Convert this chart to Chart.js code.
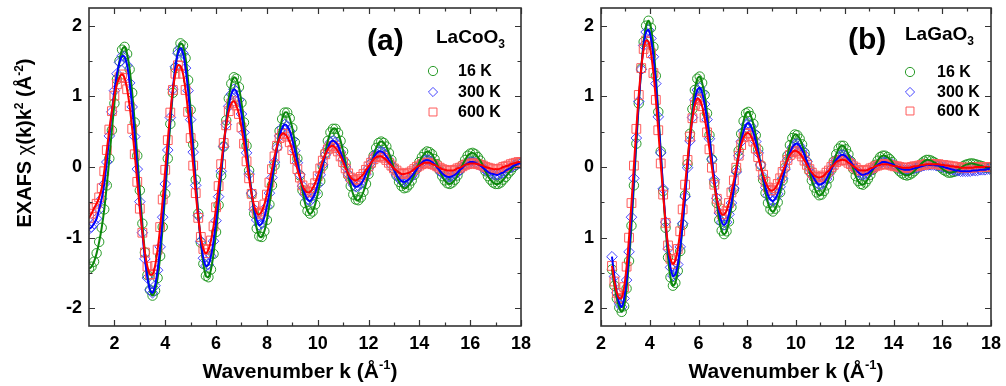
<!DOCTYPE html>
<html>
<head>
<meta charset="utf-8">
<script src="https://cdn.jsdelivr.net/npm/chart.js@4.4.1/dist/chart.umd.min.js"></script>
<style>
  html, body { margin: 0; padding: 0; background: #fff; }
  #wrap { position: relative; width: 1006px; height: 386px; overflow: hidden; }
  canvas { position: absolute; top: 0; }
</style>
</head>
<body>
<div id="wrap">
  <canvas id="chartA" width="540" height="386" style="left:0"></canvas>
  <canvas id="chartB" width="466" height="386" style="left:540px"></canvas>
</div>
<script>
// EXAFS chi(k)k^2 - LaCoO3 (a) and LaGaO3 (b), three temperatures each

const FONT = '"Liberation Sans", Arial, Helvetica, sans-serif';
const kStep = 0.1;

// ---- panel (a) LaCoO3 : k = 1.0 ... 18.0 ----
const kStartA = 1.0;
const g16a = [
  -1.44, -1.41, -1.34, -1.22, -1.06, -0.86, -0.60, -0.26, 0.12, 0.52,
  0.90, 1.24, 1.50, 1.66, 1.70, 1.60, 1.38, 1.05, 0.63, 0.16,
  -0.33, -0.80, -1.21, -1.53, -1.74, -1.82, -1.75, -1.57, -1.26, -0.85,
  -0.38, 0.12, 0.61, 1.05, 1.40, 1.64, 1.75, 1.72, 1.54, 1.23,
  0.81, 0.32, -0.18, -0.66, -1.07, -1.37, -1.54, -1.56, -1.45, -1.23,
  -0.92, -0.54, -0.12, 0.29, 0.66, 0.97, 1.18, 1.27, 1.25, 1.13,
  0.91, 0.63, 0.30, -0.05, -0.38, -0.66, -0.87, -0.98, -0.99, -0.91,
  -0.75, -0.53, -0.26, 0.02, 0.29, 0.51, 0.68, 0.77, 0.77, 0.69,
  0.55, 0.35, 0.12, -0.12, -0.33, -0.51, -0.62, -0.66, -0.63, -0.53,
  -0.38, -0.20, 0.01, 0.20, 0.37, 0.49, 0.54, 0.54, 0.48, 0.37,
  0.22, 0.05, -0.12, -0.27, -0.39, -0.46, -0.47, -0.43, -0.35, -0.24,
  -0.10, 0.04, 0.16, 0.27, 0.34, 0.36, 0.34, 0.29, 0.20, 0.10,
  -0.02, -0.12, -0.21, -0.27, -0.30, -0.29, -0.25, -0.19, -0.11, -0.02,
  0.07, 0.14, 0.19, 0.22, 0.21, 0.18, 0.11, 0.04, -0.05, -0.13,
  -0.19, -0.23, -0.24, -0.22, -0.18, -0.12, -0.04, 0.03, 0.10, 0.16,
  0.19, 0.20, 0.18, 0.14, 0.09, 0.02, -0.06, -0.13, -0.18, -0.22,
  -0.24, -0.24, -0.22, -0.18, -0.14, -0.09, -0.05, 0.00, 0.03, 0.05,
  0.06
];
const b300a = [
  -0.88, -0.85, -0.80, -0.73, -0.60, -0.45, -0.24, 0.07, 0.44, 0.78,
  1.08, 1.32, 1.48, 1.57, 1.56, 1.44, 1.19, 0.85, 0.43, -0.03,
  -0.49, -0.93, -1.30, -1.57, -1.74, -1.78, -1.68, -1.46, -1.13, -0.71,
  -0.24, 0.24, 0.70, 1.10, 1.42, 1.61, 1.68, 1.61, 1.40, 1.08,
  0.67, 0.21, -0.26, -0.69, -1.05, -1.29, -1.40, -1.38, -1.26, -1.05,
  -0.76, -0.42, -0.06, 0.29, 0.60, 0.86, 1.03, 1.10, 1.07, 0.95,
  0.75, 0.49, 0.20, -0.10, -0.37, -0.60, -0.75, -0.82, -0.80, -0.71,
  -0.56, -0.37, -0.15, 0.07, 0.27, 0.44, 0.55, 0.60, 0.58, 0.51,
  0.39, 0.23, 0.06, -0.11, -0.27, -0.39, -0.46, -0.48, -0.44, -0.37,
  -0.25, -0.11, 0.03, 0.17, 0.27, 0.35, 0.37, 0.35, 0.30, 0.21,
  0.11, 0.00, -0.10, -0.19, -0.25, -0.28, -0.27, -0.24, -0.18, -0.10,
  -0.02, 0.06, 0.13, 0.19, 0.22, 0.22, 0.20, 0.15, 0.10, 0.03,
  -0.04, -0.11, -0.16, -0.20, -0.21, -0.20, -0.17, -0.13, -0.08, -0.03,
  0.02, 0.06, 0.09, 0.10, 0.09, 0.07, 0.04, -0.01, -0.05, -0.09,
  -0.12, -0.14, -0.14, -0.13, -0.11, -0.08, -0.04, -0.01, 0.03, 0.05,
  0.07, 0.07, 0.06, 0.04, 0.02, -0.01, -0.04, -0.07, -0.09, -0.10,
  -0.11, -0.11, -0.09, -0.08, -0.05, -0.03, -0.01, 0.02, 0.03, 0.05,
  0.05
];
const r600a = [
  -0.72, -0.66, -0.58, -0.52, -0.43, -0.30, -0.06, 0.24, 0.53, 0.79,
  1.01, 1.17, 1.27, 1.31, 1.26, 1.10, 0.86, 0.54, 0.18, -0.21,
  -0.59, -0.93, -1.21, -1.41, -1.52, -1.52, -1.40, -1.17, -0.85, -0.46,
  -0.04, 0.38, 0.77, 1.09, 1.32, 1.44, 1.43, 1.32, 1.09, 0.78,
  0.41, 0.02, -0.37, -0.72, -0.99, -1.16, -1.22, -1.17, -1.04, -0.84,
  -0.57, -0.27, 0.04, 0.34, 0.59, 0.79, 0.90, 0.93, 0.87, 0.75,
  0.56, 0.33, 0.08, -0.16, -0.38, -0.55, -0.65, -0.67, -0.63, -0.53,
  -0.39, -0.22, -0.03, 0.15, 0.30, 0.41, 0.47, 0.47, 0.43, 0.35,
  0.24, 0.11, -0.03, -0.15, -0.26, -0.33, -0.36, -0.35, -0.30, -0.23,
  -0.13, -0.02, 0.09, 0.18, 0.25, 0.29, 0.30, 0.27, 0.22, 0.15,
  0.07, -0.02, -0.09, -0.15, -0.18, -0.19, -0.17, -0.14, -0.10, -0.04,
  0.01, 0.06, 0.11, 0.14, 0.15, 0.15, 0.13, 0.10, 0.06, 0.02,
  -0.02, -0.05, -0.08, -0.10, -0.10, -0.09, -0.08, -0.06, -0.03, 0.00,
  0.02, 0.04, 0.06, 0.06, 0.06, 0.04, 0.03, 0.01, -0.01, -0.03,
  -0.04, -0.05, -0.05, -0.05, -0.04, -0.02, -0.01, 0.01, 0.03, 0.04,
  0.05, 0.05, 0.05, 0.04, 0.03, 0.02, 0.00, -0.01, -0.02, -0.03,
  -0.03, -0.03, -0.02, 0.00, 0.01, 0.02, 0.04, 0.05, 0.06, 0.07,
  0.07
];

// ---- panel (b) LaGaO3 : k = 2.45 ... 17.95 ----
const kStartB = 2.45;
const g16b = [
  -1.45, -1.68, -1.86, -1.99, -2.05, -1.97,
  -1.72, -1.33, -0.83, -0.26, 0.33, 0.90, 1.39, 1.77, 2.00, 2.07,
  1.97, 1.70, 1.29, 0.78, 0.22, -0.34, -0.86, -1.28, -1.56, -1.68,
  -1.64, -1.47, -1.19, -0.82, -0.40, 0.04, 0.47, 0.82, 1.09, 1.25,
  1.28, 1.19, 1.02, 0.76, 0.45, 0.11, -0.22, -0.51, -0.75, -0.90,
  -0.95, -0.91, -0.77, -0.57, -0.32, -0.04, 0.23, 0.47, 0.65, 0.76,
  0.78, 0.72, 0.61, 0.45, 0.25, 0.03, -0.18, -0.37, -0.51, -0.60,
  -0.63, -0.59, -0.50, -0.36, -0.19, -0.01, 0.16, 0.31, 0.41, 0.46,
  0.45, 0.40, 0.32, 0.20, 0.07, -0.06, -0.19, -0.29, -0.36, -0.40,
  -0.39, -0.34, -0.26, -0.16, -0.04, 0.08, 0.18, 0.26, 0.30, 0.30,
  0.25, 0.18, 0.08, -0.03, -0.13, -0.20, -0.24, -0.25, -0.22, -0.17,
  -0.11, -0.04, 0.03, 0.09, 0.14, 0.16, 0.16, 0.14, 0.11, 0.07,
  0.02, -0.02, -0.06, -0.09, -0.11, -0.12, -0.11, -0.09, -0.06, -0.02,
  0.01, 0.05, 0.08, 0.10, 0.10, 0.09, 0.07, 0.05, 0.02, -0.01,
  -0.04, -0.06, -0.08, -0.08, -0.07, -0.06, -0.04, -0.02, 0.01, 0.03,
  0.04, 0.05, 0.05, 0.04, 0.03, 0.02, 0.01, -0.01, -0.01, -0.02
];
const b300b = [
  -1.27, -1.55, -1.78, -1.93, -1.98, -1.86,
  -1.60, -1.20, -0.71, -0.16, 0.41, 0.93, 1.38, 1.72, 1.91, 1.94,
  1.82, 1.56, 1.18, 0.71, 0.20, -0.31, -0.78, -1.16, -1.42, -1.54,
  -1.52, -1.38, -1.13, -0.80, -0.42, -0.01, 0.37, 0.70, 0.95, 1.09,
  1.12, 1.05, 0.89, 0.67, 0.40, 0.11, -0.18, -0.44, -0.65, -0.78,
  -0.82, -0.78, -0.67, -0.51, -0.30, -0.07, 0.16, 0.36, 0.51, 0.60,
  0.62, 0.58, 0.49, 0.36, 0.20, 0.03, -0.14, -0.29, -0.40, -0.46,
  -0.48, -0.45, -0.38, -0.28, -0.16, -0.03, 0.10, 0.20, 0.28, 0.32,
  0.33, 0.30, 0.24, 0.17, 0.08, -0.02, -0.10, -0.17, -0.22, -0.25,
  -0.24, -0.22, -0.17, -0.10, -0.03, 0.04, 0.10, 0.14, 0.17, 0.17,
  0.15, 0.11, 0.07, 0.02, -0.03, -0.07, -0.10, -0.11, -0.10, -0.09,
  -0.06, -0.03, 0.00, 0.03, 0.05, 0.07, 0.07, 0.06, 0.05, 0.04,
  0.02, 0.00, -0.02, -0.03, -0.04, -0.04, -0.04, -0.03, -0.02, -0.01,
  0.00, 0.01, 0.02, 0.03, 0.03, 0.03, 0.03, 0.02, 0.02, 0.01,
  0.00, -0.01, -0.02, -0.03, -0.04, -0.05, -0.05, -0.06, -0.06, -0.06,
  -0.06, -0.06, -0.05, -0.05, -0.05, -0.04, -0.04, -0.04, -0.03, -0.03
];
const r600b = [
  -1.40, -1.62, -1.78, -1.86, -1.85, -1.70,
  -1.41, -1.00, -0.51, 0.02, 0.54, 1.02, 1.40, 1.67, 1.79, 1.77,
  1.61, 1.33, 0.95, 0.52, 0.05, -0.39, -0.79, -1.11, -1.30, -1.37,
  -1.32, -1.16, -0.91, -0.60, -0.25, 0.10, 0.43, 0.69, 0.88, 0.97,
  0.95, 0.86, 0.70, 0.49, 0.25, -0.01, -0.25, -0.45, -0.59, -0.67,
  -0.67, -0.62, -0.51, -0.36, -0.19, -0.01, 0.16, 0.31, 0.42, 0.47,
  0.48, 0.44, 0.36, 0.26, 0.14, 0.01, -0.11, -0.21, -0.29, -0.33,
  -0.33, -0.30, -0.24, -0.16, -0.07, 0.02, 0.10, 0.17, 0.21, 0.23,
  0.22, 0.19, 0.15, 0.09, 0.03, -0.03, -0.08, -0.12, -0.14, -0.15,
  -0.14, -0.12, -0.08, -0.05, 0.00, 0.03, 0.07, 0.09, 0.10, 0.10,
  0.09, 0.06, 0.04, 0.01, -0.01, -0.04, -0.05, -0.05, -0.05, -0.04,
  -0.02, -0.01, 0.01, 0.02, 0.03, 0.04, 0.04, 0.04, 0.03, 0.02,
  0.01, 0.01, 0.00, -0.01, -0.01, -0.01, -0.01, 0.00, 0.01, 0.01,
  0.02, 0.03, 0.03, 0.04, 0.04, 0.04, 0.04, 0.04, 0.04, 0.03,
  0.03, 0.02, 0.02, 0.01, 0.01, 0.00, 0.00, -0.01, -0.01, -0.01,
  -0.01, -0.01, -0.01, 0.00, 0.00, 0.00, 0.00, 0.00, 0.00, 0.00
];

// ticks
const xMajorA = [2, 4, 6, 8, 10, 12, 14, 16, 18];
const xMinorA = [3, 5, 7, 9, 11, 13, 15, 17];
const xMajorB = [2, 4, 6, 8, 10, 12, 14, 16, 18];
const xMinorB = [3, 5, 7, 9, 11, 13, 15, 17];
const yMajor = [-2, -1, 0, 1, 2];
const yMinor = [-1.5, -0.5, 0.5, 1.5];
const tempLabels = ['16 K', '300 K', '600 K'];

// look of the three temperatures
const styles = [
  { line: '#0b870b', marker: 'rgba(30,150,30,0.95)', shape: 'circle', r: 4.7 },
  { line: '#0000ff', marker: 'rgba(60,60,255,0.95)', shape: 'rectRot', r: 5.3 },
  { line: '#ff0000', marker: 'rgba(255,90,90,1)', shape: 'rect', r: 6.2 }
];

function toPoints(start, vals) {
  return vals.map((v, i) => ({ x: +(start + i * kStep).toFixed(2), y: v }));
}

function makeDatasets(start, series) {
  const lines = [], marks = [];
  series.forEach((vals, i) => {
    const s = styles[i];
    const pts = toPoints(start, vals);
    lines.push({ data: pts, showLine: true, borderColor: s.line, borderWidth: 2,
      pointRadius: 0, tension: 0.3, fill: false });
    marks.push({ data: pts, showLine: false, pointStyle: s.shape, pointRadius: s.r,
      pointHoverRadius: s.r, pointBorderColor: s.marker, pointBackgroundColor: 'rgba(0,0,0,0)',
      pointBorderWidth: 1 });
  });
  // first dataset is drawn on top: lines over markers, red over blue over green
  return [...lines.reverse(), ...marks.reverse()];
}

function drawRich(ctx, parts, x, y, align) {
  let w = 0;
  parts.forEach(p => {
    ctx.font = (p.weight || 'bold') + ' ' + p.size + 'px ' + FONT;
    p.w = ctx.measureText(p.t).width;
    w += p.w;
  });
  let cx = align === 'center' ? x - w / 2 : x;
  parts.forEach(p => {
    ctx.font = (p.weight || 'bold') + ' ' + p.size + 'px ' + FONT;
    ctx.fillText(p.t, cx, y + (p.dy || 0));
    cx += p.w;
  });
}

function drawMarker(ctx, shape, x, y, r) {
  ctx.beginPath();
  if (shape === 'circle') ctx.arc(x, y, r, 0, Math.PI * 2);
  else if (shape === 'rectRot') { ctx.moveTo(x - r, y); ctx.lineTo(x, y - r); ctx.lineTo(x + r, y); ctx.lineTo(x, y + r); ctx.closePath(); }
  else { const h = r * Math.SQRT1_2; ctx.rect(x - h, y - h, 2 * h, 2 * h); }
  ctx.stroke();
}

// frame with inward ticks on all four sides
function framePlugin(xMajor, xMinor) {
  return {
    id: 'frame',
    afterDatasetsDraw(chart) {
      const { ctx, chartArea: a, scales: { x, y } } = chart;
      ctx.save();
      ctx.strokeStyle = '#333';
      ctx.lineWidth = 1.2;
      ctx.beginPath();
      const vt = (vals, len) => vals.forEach(v => {
        const px = Math.round(x.getPixelForValue(v)) + 0.5;
        ctx.moveTo(px, a.bottom); ctx.lineTo(px, a.bottom - len);
        ctx.moveTo(px, a.top); ctx.lineTo(px, a.top + len);
      });
      const ht = (vals, len) => vals.forEach(v => {
        const py = Math.round(y.getPixelForValue(v)) + 0.5;
        ctx.moveTo(a.left, py); ctx.lineTo(a.left + len, py);
        ctx.moveTo(a.right, py); ctx.lineTo(a.right - len, py);
      });
      vt(xMajor, 6); vt(xMinor, 3.5);
      ht(yMajor, 6); ht(yMinor, 3.5);
      ctx.stroke();
      ctx.lineWidth = 1.6;
      ctx.strokeRect(a.left, a.top, a.right - a.left, a.bottom - a.top);
      ctx.restore();
    }
  };
}

function textPlugin(cfg) {
  return {
    id: 'texts',
    afterDraw(chart) {
      const ctx = chart.ctx;
      ctx.save();
      ctx.fillStyle = '#000';
      ctx.textAlign = 'left';
      ctx.textBaseline = 'alphabetic';
      drawRich(ctx, [{ t: cfg.tag, size: 30 }], cfg.tagX, cfg.tagY, 'left');
      drawRich(ctx, [{ t: cfg.compound, size: 19 }, { t: '3', size: 12, dy: 5 }], cfg.compX, cfg.compY, 'left');
      // x title
      drawRich(ctx, [{ t: 'Wavenumber k (\u00C5', size: 21 }, { t: '-1', size: 13, dy: -9 }, { t: ')', size: 21 }],
        cfg.xTitleX, 378, 'center');
      // y title
      if (cfg.yTitle) {
        ctx.save();
        ctx.translate(31, 143);
        ctx.rotate(-Math.PI / 2);
        drawRich(ctx, [
          { t: 'EXAFS ', size: 20 }, { t: '\u03C7', size: 20, weight: 'normal' }, { t: '(k)k', size: 20 },
          { t: '2', size: 12, dy: -8 }, { t: ' (\u00C5', size: 20 }, { t: '-2', size: 12, dy: -8 }, { t: ')', size: 20 }
        ], 0, 0, 'center');
        ctx.restore();
      }
      // legend
      tempLabels.forEach((lab, i) => {
        const yy = cfg.legY[i];
        ctx.strokeStyle = styles[i].marker;
        ctx.lineWidth = 1;
        drawMarker(ctx, styles[i].shape, cfg.legMarkX, yy, i === 2 ? 5.6 : 4.6);
        ctx.fillStyle = '#000';
        ctx.font = 'bold 16px ' + FONT;
        ctx.textBaseline = 'middle';
        ctx.fillText(lab, cfg.legTextX, yy + 1);
        ctx.textBaseline = 'alphabetic';
      });
      ctx.restore();
    }
  };
}

function makeChart(id, opt) {
  const tickFont = { family: FONT, size: 18, weight: 'bold' };
  return new Chart(document.getElementById(id), {
    type: 'scatter',
    data: { datasets: makeDatasets(opt.kStart, opt.series) },
    options: {
      responsive: false,
      animation: false,
      layout: { padding: { left: 0, right: opt.padRight, top: 8, bottom: 0 } },
      plugins: { legend: { display: false }, tooltip: { enabled: false } },
      scales: {
        x: {
          type: 'linear', min: opt.xMin, max: 18,
          afterBuildTicks: s => { s.ticks = opt.xMajor.map(v => ({ value: v })); },
          afterFit: s => { s.height = 60; s.paddingLeft = 0; s.paddingRight = 0; },
          grid: { display: false, drawTicks: false },
          border: { display: false },
          ticks: { font: tickFont, color: '#000', padding: 7, autoSkip: false, maxRotation: 0,
            callback: v => String(v) }
        },
        y: {
          type: 'linear', min: -2.25, max: 2.25,
          afterBuildTicks: s => { s.ticks = yMajor.map(v => ({ value: v })); },
          afterFit: s => { s.width = opt.yWidth; s.paddingTop = 0; s.paddingBottom = 0; },
          grid: { display: false, drawTicks: false },
          border: { display: false },
          ticks: { font: tickFont, color: '#000', padding: 7,
            callback: opt.absTicks ? (v => String(Math.abs(v))) : (v => String(v)) }
        }
      }
    },
    plugins: [framePlugin(opt.xMajor, opt.xMinor), textPlugin(opt.text)]
  });
}

makeChart('chartA', {
  kStart: kStartA, series: [g16a, b300a, r600a], xMin: 1, xMajor: xMajorA, xMinor: xMinorA,
  yWidth: 89, padRight: 19, absTicks: false,
  text: { tag: '(a)', tagX: 367, tagY: 50, compound: 'LaCoO', compX: 436, compY: 43,
    xTitleX: 300, yTitle: true, legMarkX: 433, legTextX: 458, legY: [71, 92, 112] }
});

makeChart('chartB', {
  kStart: kStartB, series: [g16b, b300b, r600b], xMin: 2, xMajor: xMajorB, xMinor: xMinorB,
  yWidth: 61, padRight: 15, absTicks: true,
  text: { tag: '(b)', tagX: 848 - 540, tagY: 49, compound: 'LaGaO', compX: 905 - 540, compY: 40,
    xTitleX: 786 - 540, yTitle: false, legMarkX: 910 - 540, legTextX: 937 - 540, legY: [72, 92, 111] }
});
</script>
</body>
</html>
